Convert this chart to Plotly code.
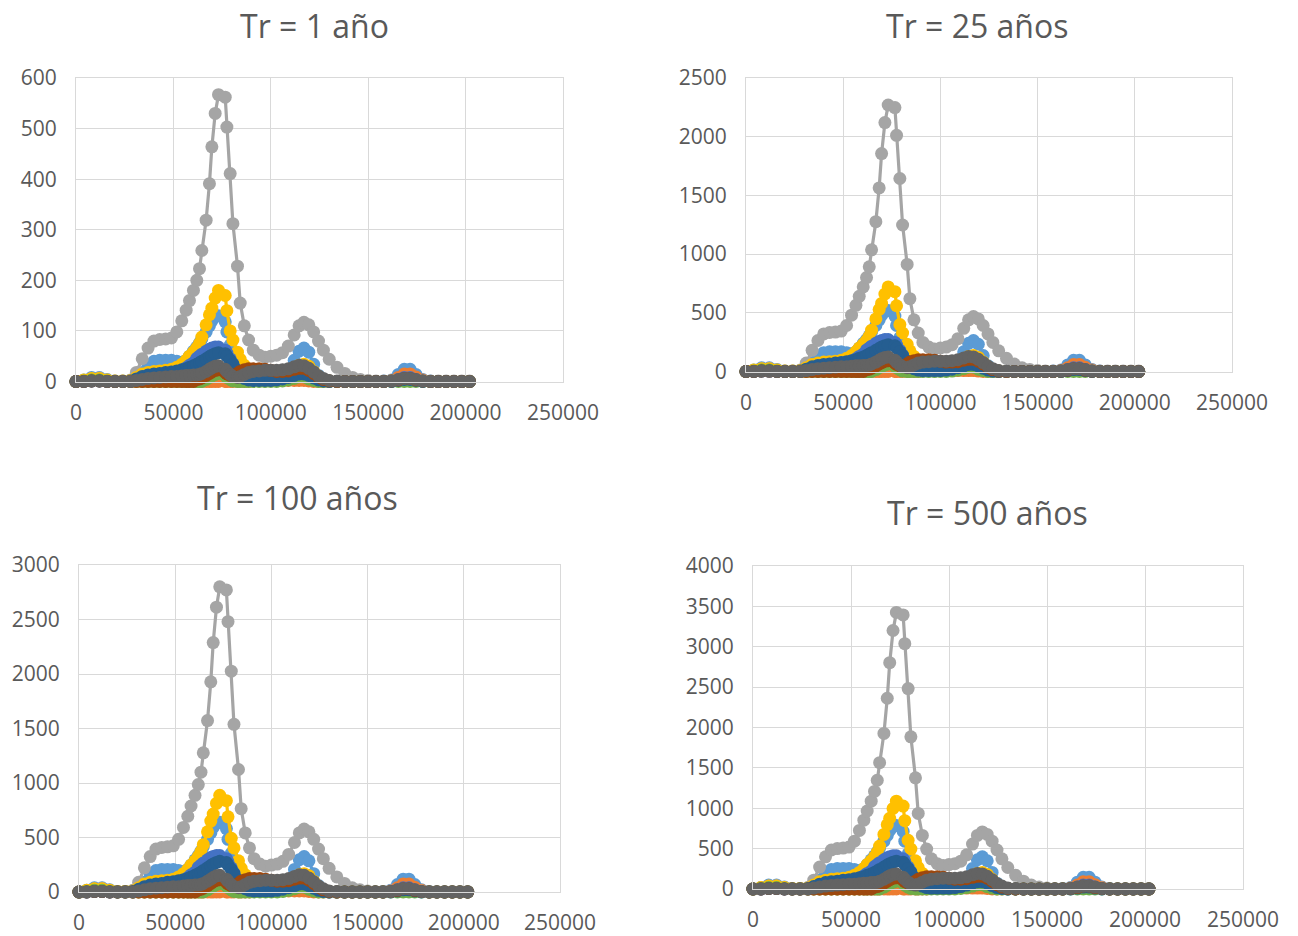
import plotly.graph_objects as go

# ---------------- data ----------------
X = [0, 4000, 8000, 12000, 16000, 20000, 24000, 28000, 31000, 34000,
     37000, 40000, 43000, 46000, 49000, 51750, 54300, 56550, 58250, 60300,
     62000, 63400, 64600, 66800, 68500, 69750, 71450, 73150, 76600, 77450,
     79150, 80550, 82900, 84300, 86400, 88600, 91000, 94000, 97000, 100000,
     103000, 106000, 109000, 112000, 114500, 117000, 119500, 122000, 124500, 127000,
     130000, 134000, 138000, 142000, 146000, 150000, 154000, 158000, 162000, 165500,
     168500, 171500, 174500, 178000, 182000, 186000, 190000, 194000, 198000, 202000]

titles = ["Tr = 1 año", "Tr = 25 años", "Tr = 100 años", "Tr = 500 años"]
y_max = [600, 2500, 3000, 4000]
y_step = [100, 500, 500, 500]
x_ticks = [0, 50000, 100000, 150000, 200000, 250000]

# ---- Tr = 1 ----
s1_tr1 = [0, 3, 8, 8, 4, 1, 1, 2, 8, 18,
          32, 40, 42, 42, 42, 40, 38, 42, 50, 60,
          68, 76, 84, 98, 110, 120, 128, 130, 118, 98,
          72, 50, 30, 18, 10, 5, 3, 2, 2, 3,
          5, 10, 20, 42, 60, 66, 58, 34, 12, 4,
          1, 0, 0, 0, 0, 0, 0, 1, 3, 14,
          24, 24, 14, 4, 1, 0, 0, 0, 0, 0]
s2_tr1 = [0, 2, 5, 5, 2, 0, 0, 0, 0, 0,
          0, 0, 0, 0, 0, 0, 0, 0, 0, 0,
          0, 0, 0, 0, 0, 0, 0, 0, 0, 0,
          0, 0, 0, 0, 0, 0, 2, 3, 4, 4,
          4, 3, 2, 2, 2, 2, 1, 0, 0, 0,
          0, 0, 0, 0, 0, 0, 0, 0, 2, 8,
          15, 15, 9, 3, 0, 0, 0, 0, 0, 0]
s3_tr1 = [0, 2, 6, 7, 3, 1, 1, 3, 18, 45,
          66, 80, 83, 84, 86, 98, 120, 141, 160, 180,
          200, 223, 259, 319, 391, 464, 530, 567, 562, 503,
          411, 312, 228, 155, 110, 82, 62, 52, 48, 50,
          52, 57, 70, 92, 110, 117, 112, 98, 80, 62,
          44, 28, 16, 8, 4, 2, 1, 1, 2, 3,
          4, 4, 3, 2, 1, 1, 1, 1, 1, 1]
s4_tr1 = [0, 3, 6, 6, 3, 1, 1, 2, 8, 15,
          18, 20, 21, 22, 24, 28, 34, 42, 50, 58,
          66, 75, 88, 112, 132, 145, 165, 180, 170, 140,
          100, 82, 58, 44, 32, 15, 6, 4, 4, 5,
          8, 12, 18, 26, 32, 34, 30, 20, 10, 4,
          1, 0, 0, 0, 0, 0, 0, 0, 1, 3,
          5, 5, 3, 1, 0, 0, 0, 0, 0, 0]
s5_tr1 = [0, 0, 1, 1, 0, 0, 0, 0, 3, 6,
          8, 10, 12, 13, 15, 18, 22, 27, 32, 37,
          46, 50, 54, 60, 64, 66, 68, 68, 62, 56,
          45, 35, 20, 10, 4, 2, 1, 1, 1, 2,
          3, 4, 5, 10, 14, 14, 10, 5, 2, 1,
          0, 0, 0, 0, 0, 0, 0, 0, 1, 4,
          8, 8, 4, 1, 0, 0, 0, 0, 0, 0]
s6_tr1 = [0, 1, 3, 3, 1, 0, 0, 0, 0, 0,
          0, 0, 0, 0, 0, 0, 0, 0, 0, 0,
          0, 0, 0, 4, 8, 11, 14, 16, 12, 8,
          4, 1, 0, 0, 0, 0, 0, 0, 0, 0,
          0, 1, 3, 6, 9, 9, 5, 2, 0, 0,
          0, 0, 0, 0, 0, 0, 0, 0, 0, 0,
          0, 0, 0, 0, 0, 0, 0, 0, 0, 0]
s7_tr1 = [0, 0, 1, 1, 0, 0, 0, 1, 5, 10,
          13, 15, 16, 18, 19, 21, 23, 25, 28, 31,
          34, 37, 40, 45, 49, 52, 55, 57, 55, 50,
          42, 34, 22, 14, 6, 3, 2, 2, 2, 2,
          3, 5, 8, 12, 15, 15, 12, 7, 3, 1,
          0, 0, 0, 0, 0, 0, 0, 0, 0, 2,
          4, 4, 2, 0, 0, 0, 0, 0, 0, 0]
s8_tr1 = [0, 0, 1, 1, 0, 0, 0, 0, 0, 0,
          0, 0, 0, 0, 0, 0, 0, 0, 0, 0,
          4, 5, 7, 12, 16, 19, 22, 23, 18, 15,
          12, 12, 16, 20, 23, 25, 25, 25, 24, 22,
          20, 20, 21, 24, 26, 26, 22, 16, 9, 4,
          1, 0, 0, 0, 0, 0, 0, 0, 1, 3,
          6, 6, 3, 1, 0, 0, 0, 0, 0, 0]
s9_tr1 = [0, 0, 1, 1, 0, 0, 0, 0, 2, 4,
          6, 7, 8, 9, 10, 10, 11, 12, 12, 13,
          13, 14, 16, 20, 24, 27, 30, 31, 24, 20,
          14, 10, 8, 10, 14, 18, 20, 21, 22, 22,
          22, 23, 25, 29, 32, 31, 26, 19, 11, 6,
          2, 1, 0, 0, 0, 0, 0, 0, 1, 4,
          6, 6, 4, 1, 0, 0, 0, 0, 0, 0]

# ---- Tr = 25 ----
s1_tr25 = [0, 12, 32, 32, 16, 4, 4, 8, 32, 72,
           128, 160, 168, 168, 168, 160, 152, 168, 200, 240,
           272, 304, 336, 392, 440, 480, 512, 520, 472, 392,
           288, 200, 120, 72, 40, 20, 12, 8, 8, 12,
           20, 40, 80, 168, 240, 264, 232, 136, 48, 16,
           4, 0, 0, 0, 0, 0, 0, 4, 12, 56,
           96, 96, 56, 16, 4, 0, 0, 0, 0, 0]
s2_tr25 = [0, 8, 20, 20, 8, 0, 0, 0, 0, 0,
           0, 0, 0, 0, 0, 0, 0, 0, 0, 0,
           0, 0, 0, 0, 0, 0, 0, 0, 0, 0,
           0, 0, 0, 0, 0, 0, 8, 12, 16, 16,
           16, 12, 8, 8, 8, 8, 4, 0, 0, 0,
           0, 0, 0, 0, 0, 0, 0, 0, 8, 32,
           60, 60, 36, 12, 0, 0, 0, 0, 0, 0]
s3_tr25 = [0, 8, 24, 28, 12, 4, 4, 12, 72, 180,
           264, 320, 332, 336, 344, 392, 480, 564, 640, 720,
           800, 892, 1036, 1276, 1564, 1856, 2120, 2270, 2248, 2012,
           1644, 1248, 912, 620, 440, 328, 248, 208, 192, 200,
           208, 228, 280, 368, 440, 468, 448, 392, 320, 248,
           176, 112, 64, 32, 16, 8, 4, 4, 8, 12,
           16, 16, 12, 8, 4, 4, 4, 4, 4, 4]
s4_tr25 = [0, 12, 24, 24, 12, 4, 4, 8, 32, 60,
           72, 80, 84, 88, 96, 112, 136, 168, 200, 232,
           264, 300, 352, 448, 528, 580, 660, 720, 680, 560,
           400, 328, 232, 176, 128, 60, 24, 16, 16, 20,
           32, 48, 72, 104, 128, 136, 120, 80, 40, 16,
           4, 0, 0, 0, 0, 0, 0, 0, 4, 12,
           20, 20, 12, 4, 0, 0, 0, 0, 0, 0]
s5_tr25 = [0, 0, 4, 4, 0, 0, 0, 0, 12, 24,
           32, 40, 48, 52, 60, 72, 88, 108, 128, 148,
           184, 200, 216, 240, 256, 264, 272, 272, 248, 224,
           180, 140, 80, 40, 16, 8, 4, 4, 4, 8,
           12, 16, 20, 40, 56, 56, 40, 20, 8, 4,
           0, 0, 0, 0, 0, 0, 0, 0, 4, 16,
           32, 32, 16, 4, 0, 0, 0, 0, 0, 0]
s6_tr25 = [0, 4, 12, 12, 4, 0, 0, 0, 0, 0,
           0, 0, 0, 0, 0, 0, 0, 0, 0, 0,
           0, 0, 0, 16, 32, 44, 56, 64, 48, 32,
           16, 4, 0, 0, 0, 0, 0, 0, 0, 0,
           0, 4, 12, 24, 36, 36, 20, 8, 0, 0,
           0, 0, 0, 0, 0, 0, 0, 0, 0, 0,
           0, 0, 0, 0, 0, 0, 0, 0, 0, 0]
s7_tr25 = [0, 0, 4, 4, 0, 0, 0, 4, 20, 40,
           52, 60, 64, 72, 76, 84, 92, 100, 112, 124,
           136, 148, 160, 180, 196, 208, 220, 228, 220, 200,
           168, 136, 88, 56, 24, 12, 8, 8, 8, 8,
           12, 20, 32, 48, 60, 60, 48, 28, 12, 4,
           0, 0, 0, 0, 0, 0, 0, 0, 0, 8,
           16, 16, 8, 0, 0, 0, 0, 0, 0, 0]
s8_tr25 = [0, 0, 4, 4, 0, 0, 0, 0, 0, 0,
           0, 0, 0, 0, 0, 0, 0, 0, 0, 0,
           16, 20, 28, 48, 64, 76, 88, 92, 72, 60,
           48, 48, 64, 80, 92, 100, 100, 100, 96, 88,
           80, 80, 84, 96, 104, 104, 88, 64, 36, 16,
           4, 0, 0, 0, 0, 0, 0, 0, 4, 12,
           24, 24, 12, 4, 0, 0, 0, 0, 0, 0]
s9_tr25 = [0, 0, 4, 4, 0, 0, 0, 0, 8, 16,
           24, 28, 32, 36, 40, 40, 44, 48, 48, 52,
           52, 56, 64, 80, 96, 108, 120, 124, 96, 80,
           56, 40, 32, 40, 56, 72, 80, 84, 88, 88,
           88, 92, 100, 116, 128, 124, 104, 76, 44, 24,
           8, 4, 0, 0, 0, 0, 0, 0, 4, 16,
           24, 24, 16, 4, 0, 0, 0, 0, 0, 0]

# ---- Tr = 100 ----
s1_tr100 = [0, 15, 39, 39, 20, 5, 5, 10, 39, 89,
            158, 197, 207, 207, 207, 197, 187, 207, 247, 296,
            335, 375, 414, 483, 542, 592, 631, 641, 582, 483,
            355, 247, 148, 89, 49, 25, 15, 10, 10, 15,
            25, 49, 99, 207, 296, 325, 286, 168, 59, 20,
            5, 0, 0, 0, 0, 0, 0, 5, 15, 69,
            118, 118, 69, 20, 5, 0, 0, 0, 0, 0]
s2_tr100 = [0, 10, 25, 25, 10, 0, 0, 0, 0, 0,
            0, 0, 0, 0, 0, 0, 0, 0, 0, 0,
            0, 0, 0, 0, 0, 0, 0, 0, 0, 0,
            0, 0, 0, 0, 0, 0, 10, 15, 20, 20,
            20, 15, 10, 10, 10, 10, 5, 0, 0, 0,
            0, 0, 0, 0, 0, 0, 0, 0, 10, 39,
            74, 74, 44, 15, 0, 0, 0, 0, 0, 0]
s3_tr100 = [0, 10, 30, 35, 15, 5, 5, 15, 89, 222,
            325, 394, 409, 414, 424, 483, 592, 695, 789, 887,
            986, 1099, 1277, 1573, 1928, 2288, 2613, 2800, 2771, 2480,
            2026, 1538, 1124, 764, 542, 404, 306, 256, 237, 247,
            256, 281, 345, 454, 542, 577, 552, 483, 394, 306,
            217, 138, 79, 39, 20, 10, 5, 5, 10, 15,
            20, 20, 15, 10, 5, 5, 5, 5, 5, 5]
s4_tr100 = [0, 15, 30, 30, 15, 5, 5, 10, 39, 74,
            89, 99, 104, 108, 118, 138, 168, 207, 247, 286,
            325, 370, 434, 552, 651, 715, 813, 887, 838, 690,
            493, 404, 286, 217, 158, 74, 30, 20, 20, 25,
            39, 59, 89, 128, 158, 168, 148, 99, 49, 20,
            5, 0, 0, 0, 0, 0, 0, 0, 5, 15,
            25, 25, 15, 5, 0, 0, 0, 0, 0, 0]
s5_tr100 = [0, 0, 5, 5, 0, 0, 0, 0, 15, 30,
            39, 49, 59, 64, 74, 89, 108, 133, 158, 182,
            227, 247, 266, 296, 316, 325, 335, 335, 306, 276,
            222, 173, 99, 49, 20, 10, 5, 5, 5, 10,
            15, 20, 25, 49, 69, 69, 49, 25, 10, 5,
            0, 0, 0, 0, 0, 0, 0, 0, 5, 20,
            39, 39, 20, 5, 0, 0, 0, 0, 0, 0]
s6_tr100 = [0, 5, 15, 15, 5, 0, 0, 0, 0, 0,
            0, 0, 0, 0, 0, 0, 0, 0, 0, 0,
            0, 0, 0, 20, 39, 54, 69, 79, 59, 39,
            20, 5, 0, 0, 0, 0, 0, 0, 0, 0,
            0, 5, 15, 30, 44, 44, 25, 10, 0, 0,
            0, 0, 0, 0, 0, 0, 0, 0, 0, 0,
            0, 0, 0, 0, 0, 0, 0, 0, 0, 0]
s7_tr100 = [0, 0, 5, 5, 0, 0, 0, 5, 25, 49,
            64, 74, 79, 89, 94, 104, 113, 123, 138, 153,
            168, 182, 197, 222, 242, 256, 271, 281, 271, 247,
            207, 168, 108, 69, 30, 15, 10, 10, 10, 10,
            15, 25, 39, 59, 74, 74, 59, 35, 15, 5,
            0, 0, 0, 0, 0, 0, 0, 0, 0, 10,
            20, 20, 10, 0, 0, 0, 0, 0, 0, 0]
s8_tr100 = [0, 0, 5, 5, 0, 0, 0, 0, 0, 0,
            0, 0, 0, 0, 0, 0, 0, 0, 0, 0,
            20, 25, 35, 59, 79, 94, 108, 113, 89, 74,
            59, 59, 79, 99, 113, 123, 123, 123, 118, 108,
            99, 99, 104, 118, 128, 128, 108, 79, 44, 20,
            5, 0, 0, 0, 0, 0, 0, 0, 5, 15,
            30, 30, 15, 5, 0, 0, 0, 0, 0, 0]
s9_tr100 = [0, 0, 5, 5, 0, 0, 0, 0, 10, 20,
            30, 35, 39, 44, 49, 49, 54, 59, 59, 64,
            64, 69, 79, 99, 118, 133, 148, 153, 118, 99,
            69, 49, 39, 49, 69, 89, 99, 104, 108, 108,
            108, 113, 123, 143, 158, 153, 128, 94, 54, 30,
            10, 5, 0, 0, 0, 0, 0, 0, 5, 20,
            30, 30, 20, 5, 0, 0, 0, 0, 0, 0]

# ---- Tr = 500 ----
s1_tr500 = [0, 18, 48, 48, 24, 6, 6, 12, 48, 109,
            193, 242, 254, 254, 254, 242, 230, 254, 302, 362,
            411, 459, 507, 592, 664, 725, 773, 785, 713, 592,
            435, 302, 181, 109, 60, 30, 18, 12, 12, 18,
            30, 60, 121, 254, 362, 399, 350, 205, 72, 24,
            6, 0, 0, 0, 0, 0, 0, 6, 18, 85,
            145, 145, 85, 24, 6, 0, 0, 0, 0, 0]
s2_tr500 = [0, 12, 30, 30, 12, 0, 0, 0, 0, 0,
            0, 0, 0, 0, 0, 0, 0, 0, 0, 0,
            0, 0, 0, 0, 0, 0, 0, 0, 0, 0,
            0, 0, 0, 0, 0, 0, 12, 18, 24, 24,
            24, 18, 12, 12, 12, 12, 6, 0, 0, 0,
            0, 0, 0, 0, 0, 0, 0, 0, 12, 48,
            91, 91, 54, 18, 0, 0, 0, 0, 0, 0]
s3_tr500 = [0, 12, 36, 42, 18, 6, 6, 18, 109, 272,
            399, 483, 501, 507, 519, 592, 725, 852, 966, 1087,
            1208, 1347, 1564, 1927, 2362, 2803, 3201, 3425, 3394, 3038,
            2482, 1884, 1377, 936, 664, 495, 374, 314, 290, 302,
            314, 344, 423, 556, 664, 707, 676, 592, 483, 374,
            266, 169, 97, 48, 24, 12, 6, 6, 12, 18,
            24, 24, 18, 12, 6, 6, 6, 6, 6, 6]
s4_tr500 = [0, 18, 36, 36, 18, 6, 6, 12, 48, 91,
            109, 121, 127, 133, 145, 169, 205, 254, 302, 350,
            399, 453, 532, 676, 797, 876, 997, 1087, 1027, 846,
            604, 495, 350, 266, 193, 91, 36, 24, 24, 30,
            48, 72, 109, 157, 193, 205, 181, 121, 60, 24,
            6, 0, 0, 0, 0, 0, 0, 0, 6, 18,
            30, 30, 18, 6, 0, 0, 0, 0, 0, 0]
s5_tr500 = [0, 0, 6, 6, 0, 0, 0, 0, 18, 36,
            48, 60, 72, 79, 91, 109, 133, 163, 193, 223,
            278, 302, 326, 362, 387, 399, 411, 411, 374, 338,
            272, 211, 121, 60, 24, 12, 6, 6, 6, 12,
            18, 24, 30, 60, 85, 85, 60, 30, 12, 6,
            0, 0, 0, 0, 0, 0, 0, 0, 6, 24,
            48, 48, 24, 6, 0, 0, 0, 0, 0, 0]
s6_tr500 = [0, 6, 18, 18, 6, 0, 0, 0, 0, 0,
            0, 0, 0, 0, 0, 0, 0, 0, 0, 0,
            0, 0, 0, 24, 48, 66, 85, 97, 72, 48,
            24, 6, 0, 0, 0, 0, 0, 0, 0, 0,
            0, 6, 18, 36, 54, 54, 30, 12, 0, 0,
            0, 0, 0, 0, 0, 0, 0, 0, 0, 0,
            0, 0, 0, 0, 0, 0, 0, 0, 0, 0]
s7_tr500 = [0, 0, 6, 6, 0, 0, 0, 6, 30, 60,
            79, 91, 97, 109, 115, 127, 139, 151, 169, 187,
            205, 223, 242, 272, 296, 314, 332, 344, 332, 302,
            254, 205, 133, 85, 36, 18, 12, 12, 12, 12,
            18, 30, 48, 72, 91, 91, 72, 42, 18, 6,
            0, 0, 0, 0, 0, 0, 0, 0, 0, 12,
            24, 24, 12, 0, 0, 0, 0, 0, 0, 0]
s8_tr500 = [0, 0, 6, 6, 0, 0, 0, 0, 0, 0,
            0, 0, 0, 0, 0, 0, 0, 0, 0, 0,
            24, 30, 42, 72, 97, 115, 133, 139, 109, 91,
            72, 72, 97, 121, 139, 151, 151, 151, 145, 133,
            121, 121, 127, 145, 157, 157, 133, 97, 54, 24,
            6, 0, 0, 0, 0, 0, 0, 0, 6, 18,
            36, 36, 18, 6, 0, 0, 0, 0, 0, 0]
s9_tr500 = [0, 0, 6, 6, 0, 0, 0, 0, 12, 24,
            36, 42, 48, 54, 60, 60, 66, 72, 72, 79,
            79, 85, 97, 121, 145, 163, 181, 187, 145, 121,
            85, 60, 48, 60, 85, 109, 121, 127, 133, 133,
            133, 139, 151, 175, 193, 187, 157, 115, 66, 36,
            12, 6, 0, 0, 0, 0, 0, 0, 6, 24,
            36, 36, 24, 6, 0, 0, 0, 0, 0, 0]

series_names = ["Serie1", "Serie2", "Serie3", "Serie4", "Serie5",
                "Serie6", "Serie7", "Serie8", "Serie9"]

# ---------------- styling / layout ----------------
colors = ["#5B9BD5", "#ED7D31", "#A5A5A5", "#FFC000", "#4472C4",
          "#70AD47", "#255E91", "#9E480E", "#636363"]

panel_data = [
    [s1_tr1, s2_tr1, s3_tr1, s4_tr1, s5_tr1, s6_tr1, s7_tr1, s8_tr1, s9_tr1],
    [s1_tr25, s2_tr25, s3_tr25, s4_tr25, s5_tr25, s6_tr25, s7_tr25, s8_tr25, s9_tr25],
    [s1_tr100, s2_tr100, s3_tr100, s4_tr100, s5_tr100, s6_tr100, s7_tr100, s8_tr100, s9_tr100],
    [s1_tr500, s2_tr500, s3_tr500, s4_tr500, s5_tr500, s6_tr500, s7_tr500, s8_tr500, s9_tr500],
]
for p in panel_data:
    for s in p:
        assert len(s) == len(X), len(s)

W, H = 1298, 936
# plot areas in pixels: (left, right, top, bottom)
boxes = [(76, 563, 78, 381.5), (746, 1232, 78, 371.5),
         (79, 560, 565, 892), (753, 1243, 566, 889)]
title_pos = [(314, 25), (977, 25), (297, 497), (987, 512)]

FONT = "Open Sans"
TXT = "#595959"
GRID = "#D9D9D9"

fig = go.Figure()
layout = dict(width=W, height=H, margin=dict(l=0, r=0, t=0, b=0, pad=0),
              autosize=False, template="none",
              paper_bgcolor="white", plot_bgcolor="white", showlegend=False,
              annotations=[])

for k in range(4):
    xa = "x" if k == 0 else f"x{k+1}"
    ya = "y" if k == 0 else f"y{k+1}"
    for si in range(9):
        fig.add_trace(go.Scatter(
            x=X, y=panel_data[k][si], xaxis=xa, yaxis=ya,
            mode="lines+markers", name=series_names[si],
            line=dict(color=colors[si], width=3.2),
            marker=dict(color=colors[si], size=13, symbol="circle", line=dict(width=0)),
            cliponaxis=False, hoverinfo="skip"))
    l, r, t, b = boxes[k]
    xkey = "xaxis" if k == 0 else f"xaxis{k+1}"
    ykey = "yaxis" if k == 0 else f"yaxis{k+1}"
    layout[xkey] = dict(domain=[l / W, r / W], anchor=ya, range=[0, 250000],
                        tickvals=x_ticks, tickformat="d", showgrid=True,
                        gridcolor=GRID, gridwidth=1, zeroline=False,
                        showline=True, linecolor=GRID, linewidth=1, mirror=True,
                        ticks="", ticklabelstandoff=12, automargin=False,
                        tickfont=dict(family=FONT, size=21, color=TXT))
    layout[ykey] = dict(domain=[1 - b / H, 1 - t / H], anchor=xa,
                        range=[0, y_max[k]], dtick=y_step[k], tick0=0,
                        tickformat="d", showgrid=True, gridcolor=GRID,
                        gridwidth=1, zeroline=False, showline=True,
                        linecolor=GRID, linewidth=1, mirror=True, ticks="",
                        ticklabelstandoff=14, automargin=False,
                        tickfont=dict(family=FONT, size=21, color=TXT))
    tx, ty = title_pos[k]
    layout["annotations"].append(dict(
        text=titles[k], x=tx / W, y=1 - ty / H, xref="paper", yref="paper",
        xanchor="center", yanchor="middle", showarrow=False,
        font=dict(family=FONT, size=32, color=TXT)))

fig.update_layout(**layout)
fig.write_html("out.html", config={"displayModeBar": False},
               post_script="document.body.style.margin='0';document.body.style.overflow='hidden';")
